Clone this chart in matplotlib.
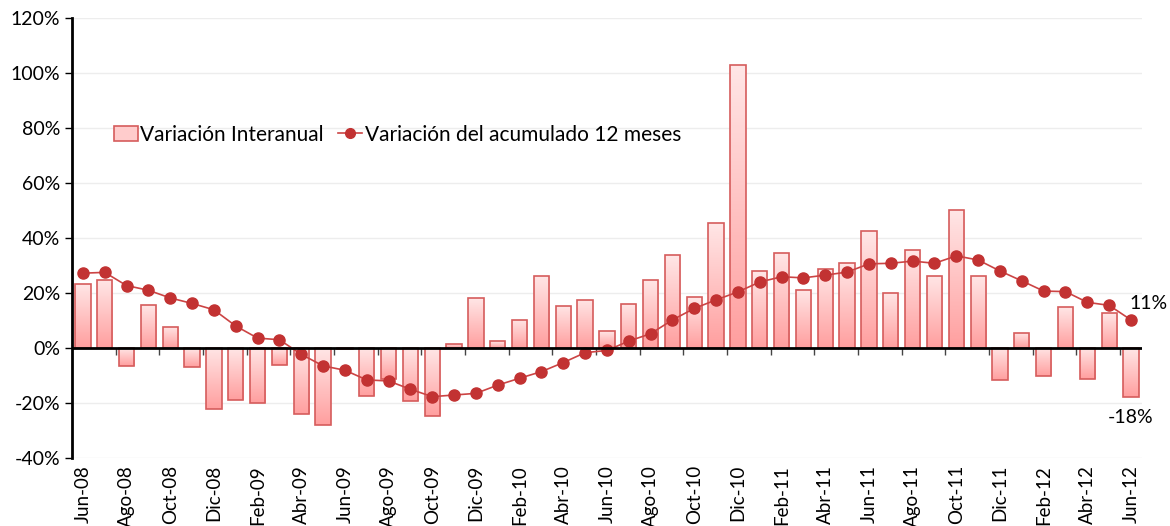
import numpy as np
import matplotlib
matplotlib.use("Agg")
import matplotlib.pyplot as plt
from matplotlib.patches import Patch
from matplotlib.lines import Line2D
from matplotlib.colors import LinearSegmentedColormap

plt.rcParams['font.family'] = ['Lato', 'DejaVu Sans']

meses = ["Jun-08", "Jul-08", "Ago-08", "Sep-08", "Oct-08", "Nov-08", "Dic-08",
         "Ene-09", "Feb-09", "Mar-09", "Abr-09", "May-09", "Jun-09", "Jul-09",
         "Ago-09", "Sep-09", "Oct-09", "Nov-09", "Dic-09", "Ene-10", "Feb-10",
         "Mar-10", "Abr-10", "May-10", "Jun-10", "Jul-10", "Ago-10", "Sep-10",
         "Oct-10", "Nov-10", "Dic-10", "Ene-11", "Feb-11", "Mar-11", "Abr-11",
         "May-11", "Jun-11", "Jul-11", "Ago-11", "Sep-11", "Oct-11", "Nov-11",
         "Dic-11", "Ene-12", "Feb-12", "Mar-12", "Abr-12", "May-12", "Jun-12"]

# variacion interanual (%)
interanual = [23.2, 24.7, -6.5, 15.5, 7.8, -6.9, -22.3, -18.9, -20.1, -6.1,
              -24.1, -28.0, -0.4, -17.6, -11.4, -19.3, -24.6, 1.6, 18.0, 2.4,
              10.2, 26.2, 15.4, 17.5, 6.0, 16.0, 24.7, 33.7, 18.4, 45.3,
              102.9, 28.0, 34.7, 21.1, 28.8, 30.8, 42.4, 20.1, 35.5, 26.3,
              50.3, 26.3, -11.8, 5.6, -10.3, 14.8, -11.4, 12.6, -17.7]

# variacion del acumulado 12 meses (%)
acumulado = [27.2, 27.5, 22.7, 21.0, 18.2, 16.2, 13.9, 8.0, 3.6, 3.0,
             -2.3, -6.5, -8.1, -11.6, -12.0, -15.0, -17.7, -17.1, -16.5, -13.5,
             -11.0, -8.6, -5.3, -1.7, -0.9, 2.5, 5.2, 10.2, 14.4, 17.5,
             20.4, 24.0, 25.9, 25.5, 26.5, 27.6, 30.6, 30.8, 31.6, 30.8,
             33.5, 32.0, 28.0, 24.4, 20.7, 20.5, 16.6, 15.5, 10.2]

x = np.arange(len(meses))

fig = plt.figure(figsize=(11.7, 5.26), dpi=100)
ax = fig.add_axes([0.0615, 0.1293, 0.9145, 0.8365])

# bars with vertical gradient (light on top, darker below)
edge = "#d65c5c"
cmap = LinearSegmentedColormap.from_list("rosa", ["#ffe6e6", "#ff9f9f"])
grad = np.linspace(0, 1, 100).reshape(-1, 1)
bars = ax.bar(x, interanual, width=0.7, color="none", edgecolor=edge,
              linewidth=1.2, zorder=3)
for b in bars:
    bx, by = b.get_x(), b.get_y()
    bw, bh = b.get_width(), b.get_height()
    y0, y1 = min(by, by + bh), max(by, by + bh)
    im = ax.imshow(grad, extent=[bx, bx + bw, y0, y1], cmap=cmap,
                   aspect="auto", origin="upper", zorder=2)
    im.set_clip_path(b)
ax.set_aspect("auto")
ax.set_xlim(-0.5, len(meses) - 0.5)
ax.set_ylim(-40, 120)

# line
ax.plot(x, acumulado, color="#cc4444", linewidth=1.2, marker="o",
        markersize=8, markerfacecolor="#c23232", markeredgecolor="#c23232",
        zorder=4)

# grid and axes
ax.set_yticks(np.arange(-40, 121, 20))
ax.set_yticklabels([f"{v}%" for v in range(-40, 121, 20)], fontsize=14)
ax.yaxis.grid(True, color="#ededed", linewidth=1)
ax.set_axisbelow(True)
for s in ["top", "right", "bottom"]:
    ax.spines[s].set_visible(False)
ax.spines["left"].set_linewidth(2)
ax.tick_params(axis="y", length=5, width=1, direction="out")

ax.set_xticks(x[::2])
ax.set_xticklabels(meses[::2], rotation=90, fontsize=13.5)
ax.tick_params(axis="x", length=0, pad=5)

ax.axhline(0, color="black", linewidth=2, zorder=5)
sec = ax.secondary_xaxis(0.25)
sec.set_xticks(np.arange(1.5, len(meses) - 1, 2))
sec.set_xticklabels([])
sec.tick_params(length=5, width=1, direction="out", color="#444444")
sec.spines["bottom"].set_visible(False)

# data labels
ax.annotate(f"{round(acumulado[-1]) + 1:.0f}%", (x[-1], acumulado[-1]),
            xytext=(-1, 11.5), textcoords="offset points", fontsize=14,
            ha="left", va="center")
ax.annotate(f"{interanual[-1]:.0f}%", (x[-1], interanual[-1]),
            xytext=(0, -15), textcoords="offset points", fontsize=14,
            ha="center", va="center")

# legend
handles = [Patch(facecolor="#ffcccc", edgecolor=edge, linewidth=1.2),
           Line2D([0], [0], color="#cc4444", linewidth=1.2, marker="o",
                  markersize=7, markerfacecolor="#c23232",
                  markeredgecolor="#c23232")]
ax.legend(handles, ["Variación Interanual", "Variación del acumulado 12 meses"],
          loc="upper left", bbox_to_anchor=(0.022, 0.80), ncol=2, frameon=False,
          fontsize=15, handlelength=1.15, handletextpad=0.1, columnspacing=0.7)

fig.savefig("out.png", dpi=100)
